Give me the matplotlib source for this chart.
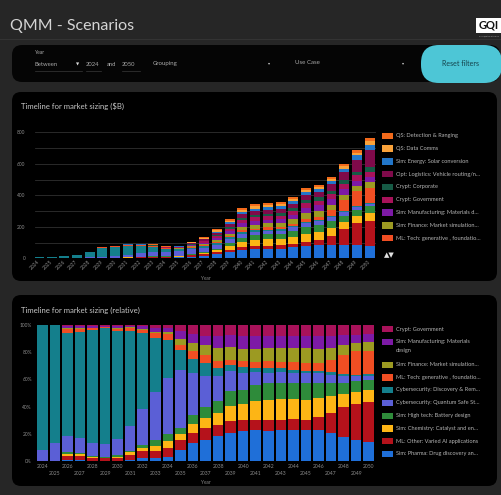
import matplotlib
matplotlib.use("Agg")
import matplotlib.pyplot as plt
from matplotlib.patches import FancyBboxPatch, Rectangle
import numpy as np

plt.rcParams['font.family'] = ['Lato', 'DejaVu Sans']

# ---------------- data ----------------
years = list(range(2024, 2051))

# absolute market size ($B), stacked bottom -> top
sim_pharma = [0, 0, 0.1, 0.1, 0.1, 0.2, 0.2, 0.4, 1.7, 1.6, 1.9, 5.9, 11.4, 16.8, 25.4, 38.7, 54.0, 59.6, 59.5, 62.1, 69.7, 80.3, 84.4, 84.3, 82.5, 82.9, 77.0]
ml_other = [0, 0, 0.4, 0.7, 0.9, 1.1, 1.5, 3.4, 4.3, 4.4, 4.8, 4.9, 6.5, 9.2, 12.1, 16.2, 19.4, 19.2, 21.4, 20.0, 24.2, 25.8, 33.0, 60.1, 104.3, 138.3, 161.7]
sim_chemistry = [0, 0, 0.2, 0.3, 0.4, 0.5, 0.8, 1.7, 2.1, 3.0, 3.5, 3.3, 5.8, 7.9, 12.1, 20.7, 27.8, 35.0, 39.2, 41.0, 43.9, 51.3, 52.1, 50.3, 46.5, 46.5, 50.1]
sim_hightech = [0, 0, 0.2, 0.2, 0.3, 0.4, 0.8, 0.9, 2.1, 3.6, 3.5, 3.1, 5.6, 8.3, 12.1, 21.6, 25.4, 31.9, 32.8, 31.9, 35.8, 42.9, 40.4, 40.1, 38.4, 41.2, 40.7]
cyber_quantum_safe = [0.5, 0.8, 1.7, 2.5, 3.9, 6.7, 9.2, 15.3, 22.1, 28.4, 28.7, 30.5, 27.3, 24.4, 25.9, 26.7, 29.8, 24.1, 19.8, 21.1, 22.4, 25.8, 27.2, 24.9, 23.2, 19.5, 16.0]
cyber_discovery = [5.5, 5.2, 10.8, 17.9, 35.7, 59.5, 61.4, 59.5, 47.6, 32.4, 19.3, 10.4, 9.2, 10.5, 8.5, 9.2, 10.2, 7.8, 9.9, 8.6, 7.6, 5.9, 6.2, 7.0, 8.1, 6.3, 6.6]
ml_tech = [0, 0, 0.4, 0.5, 0.6, 0.7, 1.2, 2.1, 2.1, 3.0, 2.6, 2.6, 4.8, 6.4, 7.6, 7.0, 10.6, 11.4, 13.1, 11.9, 17.0, 19.5, 20.6, 38.0, 67.3, 90.8, 94.6]
sim_finance = [0, 0, 0.1, 0.1, 0.2, 0.2, 0.4, 0.4, 0.4, 0.8, 1.0, 3.1, 5.3, 7.4, 13.1, 16.9, 22.5, 25.4, 26.2, 27.8, 31.2, 38.4, 38.5, 35.2, 32.7, 32.2, 35.2]
sim_manufacturing = [0, 0, 0.2, 0.3, 0.5, 0.6, 0.8, 0.9, 1.7, 2.4, 2.4, 3.8, 5.8, 7.1, 12.1, 17.5, 22.0, 23.6, 23.0, 23.2, 26.1, 30.0, 33.0, 35.2, 35.1, 32.2, 32.5]
crypt_government = [0, 0, 0.1, 0.2, 0.3, 0.3, 0.8, 0.4, 0.9, 1.5, 1.4, 3.3, 5.8, 8.9, 11.7, 13.3, 20.1, 21.5, 22.2, 22.4, 25.1, 29.0, 30.5, 33.9, 36.0, 37.5, 36.3]
crypt_corporate = [0, 0, 0, 0, 0, 0, 0.5, 1, 1.2, 1.3, 1.3, 1.5, 3.5, 5, 9, 12, 15, 15, 16, 16, 16, 20, 21, 21, 26, 22, 26]
opt_logistics = [0, 0, 0, 0, 0, 0, 1.0, 1, 1.2, 1.5, 1.5, 2, 4.5, 8, 12, 17, 24, 26, 26, 28, 27, 30, 32, 42, 45, 74, 112]
sim_energy = [0, 0, 0, 0, 0, 0, 0.5, 1, 1.2, 1.2, 1.2, 1.5, 3, 5, 8, 11, 15, 15, 16, 16, 17, 21, 21, 21, 25, 32, 32]
qs_data_comms = [0, 0, 0, 0, 0, 0, 0.5, 1, 1.2, 1.5, 1.5, 2, 3.5, 6, 8, 11, 13, 14, 14, 14, 14, 12, 12, 12, 13, 16, 21]
qs_detection = [0, 0, 0, 0, 0, 0, 0.5, 1, 1.2, 1.5, 1.5, 2, 3.5, 6, 8, 11, 13, 14, 14, 14, 14, 12, 12, 12, 13, 16, 21]

labels = ["Sim: Pharma: Drug discovery an…", "ML: Other: Varied AI applications",
          "Sim: Chemistry: Catalyst and en…", "Sim: High tech: Battery design",
          "Cybersecurity: Quantum Safe St…", "Cybersecurity: Discovery & Rem…",
          "ML: Tech: generative , foundatio…", "Sim: Finance: Market simulation…",
          "Sim: Manufacturing: Materials d…", "Crypt: Government",
          "Crypt: Corporate", "Opt: Logistics: Vehicle routing/n…",
          "Sim: Energy: Solar conversion", "QS: Data Comms", "QS: Detection & Ranging"]
series = [sim_pharma, ml_other, sim_chemistry, sim_hightech, cyber_quantum_safe,
          cyber_discovery, ml_tech, sim_finance, sim_manufacturing, crypt_government,
          crypt_corporate, opt_logistics, sim_energy, qs_data_comms, qs_detection]
colors = ['#1f6fd8', '#b5121b', '#fdb515', '#2e8b3a', '#5b5fd6',
          '#147f8c', '#f04e23', '#9c9a22', '#7d1aa6', '#a8125a',
          '#165a45', '#7f0a4a', '#2276c9', '#f9a23a', '#f26a1b']
n_rel = 10  # series shown in the relative chart
rel_labels_override = {8: "Sim: Manufacturing: Materials\ndesign"}

# ---------------- figure ----------------
W, H = 502, 495
fig = plt.figure(figsize=(W / 100, H / 100), dpi=100, facecolor='#262626')
bg = fig.add_axes([0, 0, 1, 1], zorder=0)
bg.set_xlim(0, W); bg.set_ylim(H, 0); bg.axis('off')


def rbox(x0, y0, x1, y1, r, fc, z=1):
    bg.add_patch(FancyBboxPatch((x0, y0), x1 - x0, y1 - y0,
                                boxstyle=f"round,pad=0,rounding_size={r}",
                                fc=fc, ec='none', zorder=z))


def ax_rect(x0, y0, x1, y1):
    return [x0 / W, 1 - y1 / H, (x1 - x0) / W, (y1 - y0) / H]


# header
bg.text(10, 26, "QMM - Scenarios", fontsize=11.5, color='#d4d4d4', va='center', ha='left')
bg.plot([0, W], [39, 39], color='#333333', lw=0.8)
bg.add_patch(Rectangle((476, 18), 26, 15, fc='white', ec='none', zorder=2))
bg.text(489, 25.5, "GQI", fontsize=8, fontweight='bold', color='#111111', ha='center', va='center', zorder=3)
bg.text(489, 36, "Global Quantum Intelligence", fontsize=1.2, color='#aaaaaa', ha='center', va='center')

# filter bar
rbox(12, 45, 500, 82, 10, '#050505')
rbox(421, 45, 502, 83, 18, '#4dc6d6', z=2)
bg.text(461, 64, "Reset filters", fontsize=5, color='#14414a', ha='center', va='center', zorder=3)
fcol = '#a8a8a8'
bg.text(35, 53, "Year", fontsize=3.6, color=fcol, va='center')
bg.text(35, 65, "Between", fontsize=4.2, color=fcol, va='center')
bg.text(76, 64.5, "▼", fontsize=3, color='#dddddd', va='center', family='DejaVu Sans')
bg.plot([35, 82], [71, 71], color='#3a3a3a', lw=0.5)
bg.text(86, 65, "2024", fontsize=4.2, color=fcol, va='center')
bg.plot([86, 101], [71, 71], color='#3a3a3a', lw=0.5)
bg.text(107, 65, "and", fontsize=4.2, color=fcol, va='center')
bg.text(122, 65, "2050", fontsize=4.2, color=fcol, va='center')
bg.plot([122, 140], [71, 71], color='#3a3a3a', lw=0.5)
bg.text(153, 63, "Grouping", fontsize=4.4, color=fcol, va='center')
bg.text(268, 63, "▾", fontsize=3, color='#cccccc', va='center', family='DejaVu Sans')
bg.text(295, 63, "Use Case", fontsize=4.4, color=fcol, va='center')
bg.text(402, 63, "▾", fontsize=3, color='#cccccc', va='center', family='DejaVu Sans')

# panels
rbox(12, 92, 497, 281, 9, '#000000')
rbox(12, 295, 497, 486, 9, '#000000')
tcol = '#c6c6c6'
bg.text(21, 106, "Timeline for market sizing ($B)", fontsize=5.6, color=tcol, va='center')
bg.text(21, 310, "Timeline for market sizing (relative)", fontsize=5.6, color=tcol, va='center')

x = np.arange(len(years))
tick_col = '#8c8c8c'

# ---------------- top chart ----------------
ax1 = fig.add_axes(ax_rect(35, 132.3, 376, 258.3), zorder=2)
ax1.set_facecolor('none')
bottom = np.zeros(len(years))
for vals, c in zip(series, colors):
    v = np.array(vals, dtype=float)
    ax1.bar(x, v, bottom=bottom, width=0.78, color=c, edgecolor='none', zorder=3)
    bottom += v
ax1.set_xlim(-0.3, 26.5)
ax1.set_ylim(0, 800)
ax1.set_yticks(range(0, 801, 100))
ax1.set_yticklabels([str(v) if v % 200 == 0 else '' for v in range(0, 801, 100)])
ax1.grid(axis='y', color='#303030', lw=0.6, zorder=0)
ax1.set_axisbelow(True)
ax1.set_xticks(x)
ax1.set_xticklabels([str(y) for y in years], rotation=45, ha='right', va='center',
                    rotation_mode='anchor')
ax1.tick_params(axis='x', length=0, pad=2, labelsize=3.5, labelcolor=tick_col)
ax1.tick_params(axis='y', length=0, pad=7, labelsize=3.5, labelcolor=tick_col)
for s in ax1.spines.values():
    s.set_visible(False)
bg.text(205.5, 279, "Year", fontsize=3.4, color=tick_col, ha='center', va='center')

# top legend (stack top first, first 9 entries)
lx, ly, dy = 382, 135.7, 12.8
for i, idx in enumerate(range(14, 5, -1)):
    yy = ly + i * dy
    bg.add_patch(Rectangle((lx, yy - 3.2), 11, 6.4, fc=colors[idx], ec='none', zorder=3))
    bg.text(lx + 14, yy, labels[idx], fontsize=4.1, color='#b4b4b4', va='center', zorder=3)
bg.text(384, 255, "▲▼", fontsize=5, color='#e0e0e0', va='center', family='DejaVu Sans', zorder=3)

# ---------------- bottom chart ----------------
rel = np.array(series[:n_rel], dtype=float)
rel_tot = rel.sum(axis=0)
ax2 = fig.add_axes(ax_rect(36, 325, 375, 461), zorder=2)
ax2.set_facecolor('none')
bottom = np.zeros(len(years))
for i in range(n_rel):
    pct = rel[i] / rel_tot * 100
    ax2.bar(x, pct, bottom=bottom, width=0.84, color=colors[i], edgecolor='none')
    bottom += pct
ax2.set_xlim(-0.5, 26.5)
ax2.set_ylim(0, 100)
ax2.set_yticks(range(0, 101, 20))
ax2.set_yticklabels([f"{v}%" for v in range(0, 101, 20)])
ax2.set_xticks(x)
ax2.set_xticklabels([str(y) if i % 2 == 0 else "\n" + str(y) for i, y in enumerate(years)],
                    linespacing=1.6)
ax2.tick_params(axis='x', length=0, pad=2, labelsize=3.6, labelcolor=tick_col)
ax2.tick_params(axis='y', length=0, pad=3, labelsize=3.5, labelcolor=tick_col)
for s in ax2.spines.values():
    s.set_visible(False)
bg.text(205.5, 482, "Year", fontsize=3.4, color=tick_col, ha='center', va='center')

# bottom legend
ys = [329, 341.7, 365, 377.3, 390, 402.7, 415.7, 428.3, 441, 454]
for yy, idx in zip(ys, range(n_rel - 1, -1, -1)):
    bg.add_patch(Rectangle((lx, yy - 3.2), 11, 6.4, fc=colors[idx], ec='none', zorder=3))
    lab = rel_labels_override.get(idx, labels[idx])
    bg.text(lx + 14, yy - 2.6 if '\n' in lab else yy, lab, fontsize=4.1, color='#b4b4b4',
            va='top' if '\n' in lab else 'center', linespacing=1.9, zorder=3)

fig.savefig("out.png", dpi=100, facecolor=fig.get_facecolor())
